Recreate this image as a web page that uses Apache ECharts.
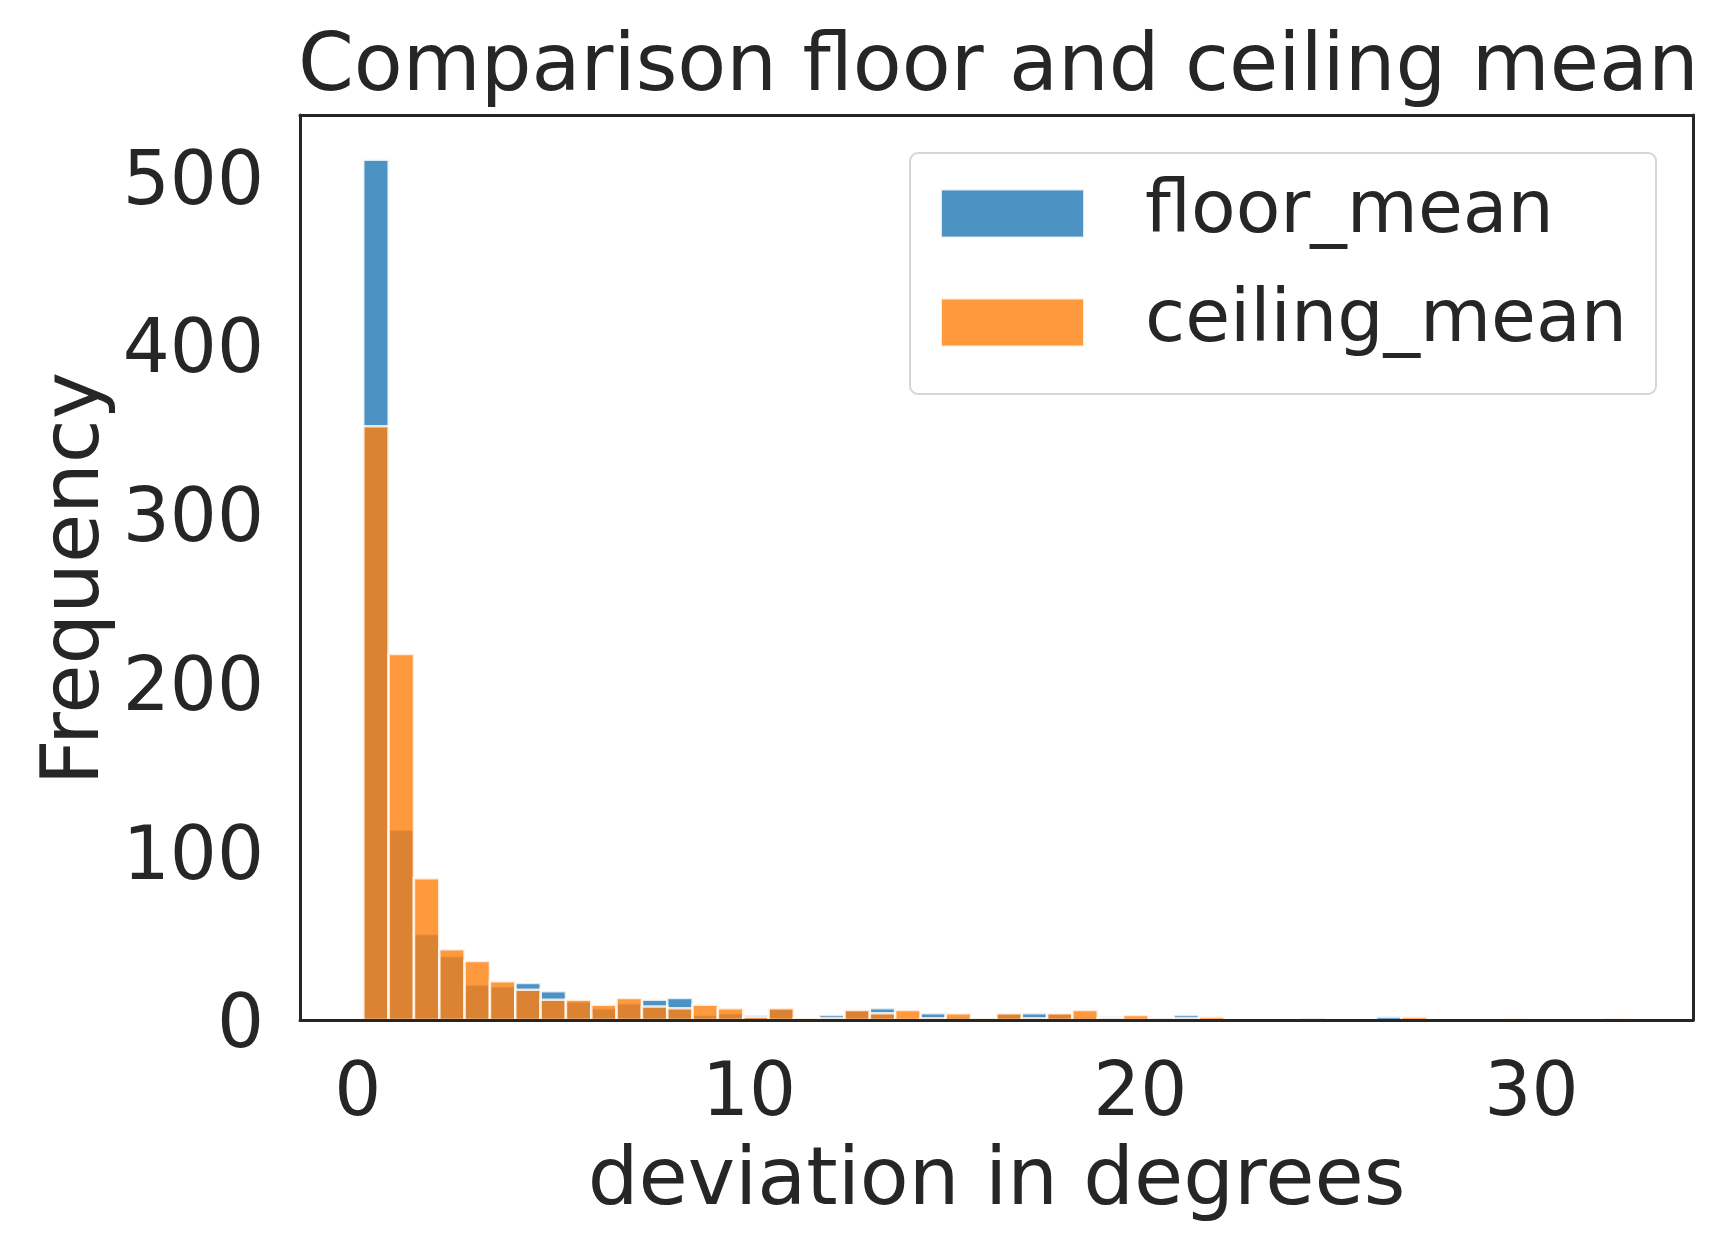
<!DOCTYPE html>
<html lang="en">
<head>
  <meta charset="UTF-8">
  <title>Comparison floor and ceiling mean</title>
  <script src="https://cdn.jsdelivr.net/npm/echarts@6/dist/echarts.min.js"></script>
  <style>
    html, body { margin: 0; padding: 0; background: #fff; }
  </style>
</head>
<body>
<div id="main" style="width: 1726px;height:1252px;"></div>
<script>
  // histogram bins shared by both columns (50 bins)
  var binMin = 0.14;
  var binWidth = 0.6474;
  var floorMean = [510, 113, 51, 38, 21, 20, 22, 17, 11, 7,
                   10, 12, 13, 3, 4, 3, 7, 1, 3, 6,
                   7, 1, 4, 2, 1, 4, 4, 4, 2, 2,
                   0, 1, 3, 0, 0, 0, 0, 1, 0, 0,
                   2, 0, 0, 0, 0, 0, 0, 0, 0, 0];
  var ceilingMean = [352, 217, 84, 42, 35, 23, 18, 12, 12, 9,
                     13, 8, 7, 9, 7, 2, 7, 1, 1, 6,
                     4, 6, 1, 4, 1, 4, 1, 4, 6, 1,
                     3, 0, 1, 2, 0, 0, 0, 0, 0, 0,
                     0, 2, 0, 0, 0, 1, 0, 0, 0, 1];
  var xTicks = [0, 10, 20, 30];
  var yTicks = [0, 100, 200, 300, 400, 500];

  var ink = '#262626';
  var font = 'DejaVu Sans';

  function toBins(counts) {
    return counts.map(function (c, i) {
      return [binMin + i * binWidth, binMin + (i + 1) * binWidth, c];
    });
  }

  function renderBar(params, api) {
    var v = api.value(2);
    if (!v) return null;
    var p0 = api.coord([api.value(0), v]);
    var p1 = api.coord([api.value(1), 0]);
    return {
      type: 'rect',
      shape: { x: p0[0], y: p0[1], width: p1[0] - p0[0], height: p1[1] - p0[1] },
      style: api.style()
    };
  }

  var myChart = echarts.init(document.querySelector('#main'), null, {renderer: 'canvas'});

  var xRange = { min: -1.478, max: 34.13 };
  var yRange = { min: 0, max: 536.5 };

  var option = {
    animation: false,
    backgroundColor: '#fff',
    title: {
      text: 'Comparison floor and ceiling mean',
      left: 298,
      top: 29,
      padding: 0,
      textStyle: { fontFamily: font, fontSize: 80, fontWeight: 'normal', color: ink }
    },
    legend: {
      orient: 'vertical',
      left: 910,
      top: 153,
      padding: [24, 29, 35, 30],
      itemWidth: 143,
      itemHeight: 48,
      itemGap: 36,
      icon: 'rect',
      backgroundColor: '#fff',
      borderColor: '#d6d6d6',
      borderWidth: 2,
      borderRadius: 8,
      textStyle: {
        fontFamily: font, fontSize: 73, color: ink,
        padding: [0, 0, 0, 56]
      },
      data: ['floor_mean', 'ceiling_mean']
    },
    grid: { left: 300, right: 33, top: 115, bottom: 232 },
    xAxis: [{
      type: 'value',
      min: xRange.min, max: xRange.max,
      z: 10,
      name: 'deviation in degrees',
      nameLocation: 'middle',
      nameGap: 123,
      nameTextStyle: { fontFamily: font, fontSize: 80, color: ink },
      axisLine: { show: true, onZero: false, lineStyle: { color: ink, width: 3 } },
      axisTick: { show: false },
      splitLine: { show: false },
      axisLabel: {
        customValues: xTicks,
        margin: 39,
        fontFamily: font, fontSize: 74, color: ink
      }
    }, {
      type: 'value', position: 'top',
      min: xRange.min, max: xRange.max,
      z: 10,
      axisLine: { show: true, onZero: false, lineStyle: { color: ink, width: 3 } },
      axisTick: { show: false }, axisLabel: { show: false }, splitLine: { show: false }
    }],
    yAxis: [{
      type: 'value',
      min: yRange.min, max: yRange.max,
      z: 10,
      name: 'Frequency',
      nameLocation: 'middle',
      nameGap: 183,
      nameMoveOverlap: false,
      nameTextStyle: { fontFamily: font, fontSize: 80, color: ink, padding: [12, 22, 0, 0] },
      axisLine: { show: true, onZero: false, lineStyle: { color: ink, width: 3 } },
      axisTick: { show: false },
      splitLine: { show: false },
      axisLabel: {
        customValues: yTicks,
        margin: 36,
        verticalAlign: 'top',
        lineHeight: 16,
        fontFamily: font, fontSize: 74, color: ink
      }
    }, {
      type: 'value', position: 'right',
      min: yRange.min, max: yRange.max,
      z: 10,
      axisLine: { show: true, onZero: false, lineStyle: { color: ink, width: 3 } },
      axisTick: { show: false }, axisLabel: { show: false }, splitLine: { show: false }
    }],
    series: [{
      name: 'floor_mean',
      type: 'custom',
      renderItem: renderBar,
      itemStyle: { color: 'rgba(31,119,180,0.8)', borderColor: 'rgba(255,255,255,0.8)', borderWidth: 2.5 },
      encode: { x: [0, 1], y: 2 },
      data: toBins(floorMean)
    }, {
      name: 'ceiling_mean',
      type: 'custom',
      renderItem: renderBar,
      itemStyle: { color: 'rgba(255,127,14,0.8)', borderColor: 'rgba(255,255,255,0.8)', borderWidth: 2.5 },
      encode: { x: [0, 1], y: 2 },
      data: toBins(ceilingMean)
    }]
  };

  myChart.setOption(option);
</script>
</body>
</html>
